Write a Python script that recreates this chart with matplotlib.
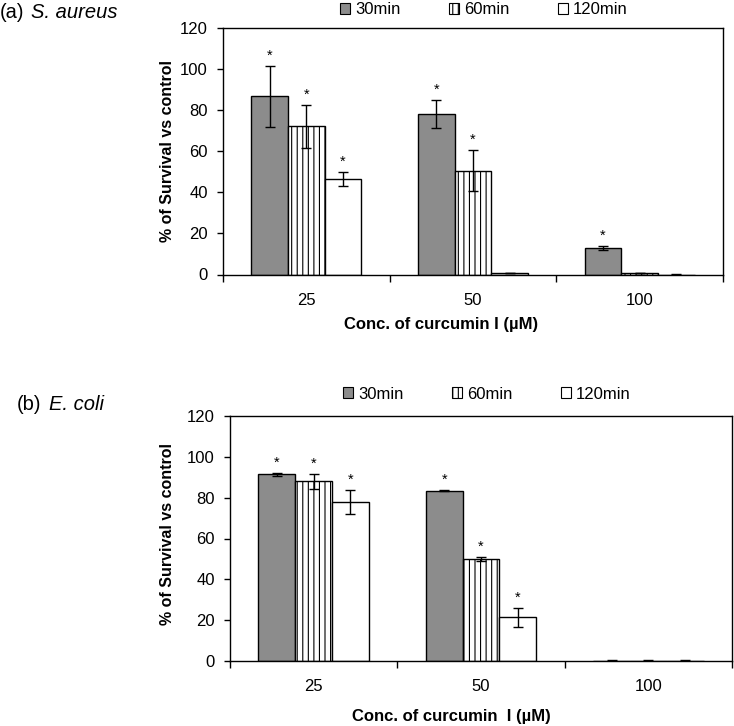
import numpy as np
import matplotlib.pyplot as plt
from matplotlib.patches import Patch

plt.rcParams['font.family'] = ['Liberation Sans', 'DejaVu Sans']
plt.rcParams['hatch.linewidth'] = 0.8

conc = ['25', '50', '100']
times = ['30min', '60min', '120min']

# (a) S. aureus
sa_30 = [86.5, 78.0, 13.0]
sa_30_err = [15.0, 7.0, 1.0]
sa_60 = [72.0, 50.5, 0.8]
sa_60_err = [10.5, 10.0, 0.0]
sa_120 = [46.5, 0.8, 0.0]
sa_120_err = [3.3, 0.0, 0.3]
sa_star = [[True, True, True], [True, True, False], [True, False, False]]  # per time, per conc

# (b) E. coli
ec_30 = [91.5, 83.5, 0.0]
ec_30_err = [0.7, 0.4, 0.3]
ec_60 = [88.0, 50.0, 0.0]
ec_60_err = [3.6, 1.0, 0.3]
ec_120 = [78.0, 21.5, 0.0]
ec_120_err = [6.0, 4.7, 0.3]
ec_star = [[True, True, False], [True, True, False], [True, True, False]]

styles = [dict(color='#8c8c8c', hatch=None),
          dict(color='white', hatch='|||'),
          dict(color='white', hatch=None)]


def draw_panel(ax, vals, errs, stars):
    x = np.arange(len(conc))
    w = 0.22
    for i, (v, e) in enumerate(zip(vals, errs)):
        pos = x + (i - 1) * w
        ax.bar(pos, v, w, color=styles[i]['color'], hatch=styles[i]['hatch'],
               edgecolor='black', linewidth=1, zorder=2)
        ax.errorbar(pos, v, yerr=e, fmt='none', ecolor='black', elinewidth=1,
                    capsize=3.5, capthick=1, zorder=3)
        for j in range(len(conc)):
            if stars[i][j]:
                ax.text(pos[j], v[j] + e[j] + 1.5, '*', ha='center', va='bottom', fontsize=10.5)
    ax.set_xlim(-0.5, 2.5)
    ax.set_ylim(0, 120)
    ax.set_yticks(range(0, 121, 20))
    ax.set_xticks([-0.5, 0.5, 1.5, 2.5])
    ax.set_xticklabels([])
    ax.set_xticks(x, minor=True)
    ax.set_xticklabels(conc, minor=True)
    ax.tick_params(axis='x', which='major', direction='out', length=5, width=1)
    ax.tick_params(axis='x', which='minor', length=0, pad=13, labelsize=12)
    ax.tick_params(axis='y', direction='out', length=4, width=1, pad=7, labelsize=12)
    for s in ax.spines.values():
        s.set_linewidth(1)
    handles = [Patch(facecolor=styles[i]['color'], hatch=styles[i]['hatch'],
                     edgecolor='black', linewidth=0.8, label=times[i]) for i in range(3)]
    return handles


fig = plt.figure(figsize=(7.34, 7.26), dpi=100)
ax1 = fig.add_axes([223 / 734, 1 - 274.5 / 726, 500 / 734, 247 / 726])
ax2 = fig.add_axes([230 / 734, 1 - 661 / 726, 502 / 734, 245 / 726])

h1 = draw_panel(ax1, [sa_30, sa_60, sa_120], [sa_30_err, sa_60_err, sa_120_err], sa_star)
h2 = draw_panel(ax2, [ec_30, ec_60, ec_120], [ec_30_err, ec_60_err, ec_120_err], ec_star)

leg_kw = dict(ncol=3, frameon=False, fontsize=12, handlelength=0.6, handleheight=0.6,
              handletextpad=0.3, columnspacing=2.9, borderpad=0, loc='center left')
fig.legend(handles=h1, bbox_to_anchor=(332 / 734, 1 - 10 / 726), **leg_kw)
fig.legend(handles=h2, bbox_to_anchor=(335 / 734, 1 - 394 / 726), **leg_kw)

lab_kw = dict(fontsize=12, fontweight='bold')
fig.text(441 / 734, 1 - 325 / 726, 'Conc. of curcumin I (µM)', ha='center', va='center', **lab_kw)
fig.text(451 / 734, 1 - 717 / 726, 'Conc. of curcumin  I (µM)', ha='center', va='center', **lab_kw)
fig.text(167 / 734, 1 - 151 / 726, '% of Survival vs control', rotation=90, ha='center', va='center',
         fontsize=11.5, fontweight='bold')
fig.text(167 / 734, 1 - 534 / 726, '% of Survival vs control', rotation=90, ha='center', va='center',
         fontsize=11.5, fontweight='bold')

fig.text(0, 1 - 12 / 726, '(a)', ha='left', va='center', fontsize=14.5)
fig.text(31 / 734, 1 - 12 / 726, 'S. aureus', ha='left', va='center', fontsize=14.5, style='italic')
fig.text(17 / 734, 1 - 405 / 726, '(b)', ha='left', va='center', fontsize=14.5)
fig.text(49 / 734, 1 - 405 / 726, 'E. coli', ha='left', va='center', fontsize=14.5, style='italic')

fig.savefig('out.png', dpi=100)
